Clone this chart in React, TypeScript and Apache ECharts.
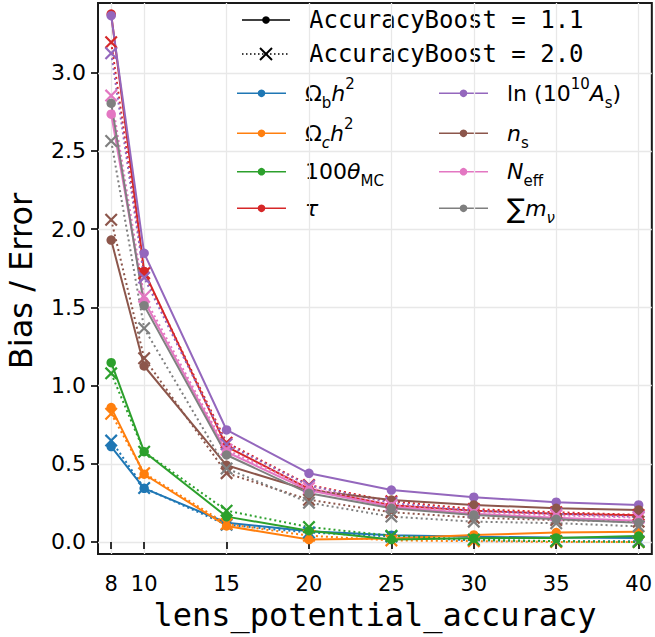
import React, { useEffect, useRef } from 'react';
import * as echarts from 'echarts';

// ---- data ----
const xValues = [8, 10, 15, 20, 25, 30, 35, 40];
const xTickLabels = [8, 10, 15, 20, 25, 30, 35, 40];
const yTickLabels = [0.0, 0.5, 1.0, 1.5, 2.0, 2.5, 3.0];

// AccuracyBoost = 1.1 (solid, circles)
const boost11_ombh2 = [0.61, 0.343, 0.123, 0.068, 0.043, 0.033, 0.028, 0.025];
const boost11_omch2 = [0.859, 0.433, 0.102, 0.015, 0.022, 0.045, 0.06, 0.066];
const boost11_theta = [1.146, 0.577, 0.162, 0.072, 0.015, 0.024, 0.026, 0.038];
const boost11_tau = [3.375, 1.73, 0.61, 0.34, 0.235, 0.2, 0.18, 0.17];
const boost11_logA = [3.365, 1.846, 0.716, 0.439, 0.332, 0.286, 0.254, 0.237];
const boost11_ns = [1.93, 1.125, 0.49, 0.33, 0.268, 0.237, 0.215, 0.205];
const boost11_neff = [2.735, 1.541, 0.575, 0.33, 0.225, 0.18, 0.155, 0.135];
const boost11_mnu = [2.805, 1.511, 0.556, 0.311, 0.215, 0.173, 0.145, 0.123];

// AccuracyBoost = 2.0 (dotted, crosses)
const boost20_ombh2 = [0.648, 0.345, 0.11, 0.06, 0.035, 0.01, 0.005, 0.005];
const boost20_omch2 = [0.82, 0.44, 0.115, 0.04, 0.01, 0.005, 0.0, 0.0];
const boost20_theta = [1.078, 0.577, 0.2, 0.095, 0.04, 0.015, 0.005, 0.0];
const boost20_tau = [3.195, 1.718, 0.635, 0.364, 0.26, 0.21, 0.19, 0.173];
const boost20_logA = [3.125, 1.69, 0.625, 0.36, 0.25, 0.2, 0.18, 0.16];
const boost20_ns = [2.06, 1.175, 0.44, 0.27, 0.19, 0.155, 0.14, 0.13];
const boost20_neff = [2.854, 1.568, 0.59, 0.345, 0.235, 0.19, 0.17, 0.155];
const boost20_mnu = [2.564, 1.366, 0.47, 0.251, 0.162, 0.13, 0.12, 0.1];

const paramLabels = [
  '{r|Ω}{sub|b}{i|h}{sup|2}',
  '{r|Ω}{subi|c}{i|h}{sup|2}',
  '{r|100}{i|θ}{sub|MC}',
  '{i|τ}',
  '{r|ln (10}{sup|10}{i|A}{sub|s}{r|)}',
  '{i|n}{sub|s}',
  '{i|N}{sub|eff}',
  '{sum|∑}{i|m}{subi|ν}',
];
const colors = ['#1f77b4', '#ff7f0e', '#2ca02c', '#d62728', '#9467bd', '#8c564b', '#e377c2', '#7f7f7f'];
const solidData = [boost11_ombh2, boost11_omch2, boost11_theta, boost11_tau, boost11_logA, boost11_ns, boost11_neff, boost11_mnu];
const dottedData = [boost20_ombh2, boost20_omch2, boost20_theta, boost20_tau, boost20_logA, boost20_ns, boost20_neff, boost20_mnu];

const X_SYMBOL = 'path://M0,1.2L1.2,0L5,3.8L8.8,0L10,1.2L6.2,5L10,8.8L8.8,10L5,6.2L1.2,10L0,8.8L3.8,5Z';
const DOT = [2, 3];
const MATH = 'DejaVu Sans';

const rich = {
  r: { fontFamily: MATH, fontSize: 22, lineHeight: 34, verticalAlign: 'middle', fill: '#000' },
  i: { fontFamily: MATH, fontSize: 22, fontStyle: 'italic', lineHeight: 34, verticalAlign: 'middle', fill: '#000' },
  sup: { fontFamily: MATH, fontSize: 15, lineHeight: 15, verticalAlign: 'top', fill: '#000' },
  sub: { fontFamily: MATH, fontSize: 15, lineHeight: 15, verticalAlign: 'bottom', fill: '#000' },
  subi: { fontFamily: MATH, fontSize: 15, fontStyle: 'italic', lineHeight: 15, verticalAlign: 'bottom', fill: '#000' },
  sum: { fontFamily: MATH, fontSize: 27, lineHeight: 34, verticalAlign: 'middle', fill: '#000' },
};

function buildLegend(): any[] {
  const els: any[] = [];
  const ly = [20, 54];
  els.push({ type: 'line', shape: { x1: 242, y1: ly[0], x2: 290, y2: ly[0] }, style: { stroke: '#000', lineWidth: 1.5 } });
  els.push({ type: 'circle', shape: { cx: 266, cy: ly[0], r: 3.8 }, style: { fill: '#000' } });
  els.push({ type: 'line', shape: { x1: 242, y1: ly[1], x2: 290, y2: ly[1] }, style: { stroke: '#000', lineWidth: 1.5, lineDash: [1.5, 2.5] } });
  els.push({ type: 'line', shape: { x1: 260, y1: ly[1] - 6, x2: 272, y2: ly[1] + 6 }, style: { stroke: '#000', lineWidth: 2 } });
  els.push({ type: 'line', shape: { x1: 272, y1: ly[1] - 6, x2: 260, y2: ly[1] + 6 }, style: { stroke: '#000', lineWidth: 2 } });
  const boostTexts = ['AccuracyBoost = 1.1', 'AccuracyBoost = 2.0'];
  boostTexts.forEach((t, k) => {
    els.push({
      type: 'text', x: 309, y: ly[k],
      style: { text: t, fontFamily: 'DejaVu Sans Mono', fontSize: 24, fill: '#000', verticalAlign: 'middle', align: 'left' },
    });
  });
  const rows = [93.3, 133.3, 171.7, 208.3];
  const cols = [{ x1: 237, x2: 286, tx: 305 }, { x1: 439, x2: 488, tx: 507 }];
  paramLabels.forEach((lab, k) => {
    const c = cols[Math.floor(k / 4)];
    const y = rows[k % 4];
    els.push({ type: 'line', shape: { x1: c.x1, y1: y, x2: c.x2, y2: y }, style: { stroke: colors[k], lineWidth: 1.5 } });
    els.push({ type: 'circle', shape: { cx: (c.x1 + c.x2) / 2, cy: y, r: 3.8 }, style: { fill: colors[k] } });
    els.push({
      type: 'text', x: c.tx, y: y,
      style: { text: lab, rich, verticalAlign: 'middle', align: 'left', fill: '#000' },
    });
  });
  els.push({
    type: 'text', x: 375, y: 615,
    style: { text: 'lens_potential_accuracy', fontFamily: 'DejaVu Sans Mono', fontSize: 32, lineHeight: 26, fill: '#000', align: 'center', verticalAlign: 'middle' },
  });
  els.push({
    type: 'text', x: 21, y: 281, rotation: Math.PI / 2,
    style: { text: 'Bias / Error', fontFamily: 'DejaVu Sans', fontSize: 32, fill: '#000', align: 'center', verticalAlign: 'middle' },
  });
  return els;
}

export default function App() {
  const ref = useRef<HTMLDivElement>(null);
  useEffect(() => {
    if (!ref.current) return;
    const chart = echarts.init(ref.current, null, { renderer: 'svg' });
    const series: any[] = [];
    colors.forEach((col, k) => {
      series.push({
        type: 'line',
        data: xValues.map((x, j) => [x, solidData[k][j]]),
        symbol: 'circle', symbolSize: 9.5,
        lineStyle: { color: col, width: 2 },
        itemStyle: { color: col },
        silent: true,
      });
      series.push({
        type: 'line',
        data: xValues.map((x, j) => [x, dottedData[k][j]]),
        symbol: X_SYMBOL, symbolSize: 13,
        lineStyle: { color: col, width: 2, type: DOT },
        itemStyle: { color: col },
        silent: true,
      });
    });
    chart.setOption({
      animation: false,
      grid: { left: 98, right: 3, top: 3, bottom: 83, show: true, borderColor: '#1a1a1a', borderWidth: 2, backgroundColor: 'transparent' },
      xAxis: {
        type: 'value', min: 7.2, max: 40.8,
        axisLine: { show: false },
        axisTick: { show: true, length: 7, inside: false, customValues: xTickLabels, lineStyle: { color: '#000', width: 1.6 } },
        axisLabel: { customValues: xTickLabels, fontFamily: 'DejaVu Sans', fontSize: 21, lineHeight: 18, color: '#000', margin: 21, formatter: (v: number) => String(v) },
        splitLine: { show: true, lineStyle: { color: '#e8e8e8', width: 1.3 } },
      },
      yAxis: {
        type: 'value', min: -0.077, max: 3.446,
        axisLine: { show: false },
        axisTick: { show: true, length: 7, inside: false, customValues: yTickLabels, lineStyle: { color: '#000', width: 1.6 } },
        axisLabel: { customValues: yTickLabels, fontFamily: 'DejaVu Sans', fontSize: 22, color: '#000', margin: 12, formatter: (v: number) => v.toFixed(1) },
        splitLine: { show: true, lineStyle: { color: '#e8e8e8', width: 1.3 } },
      },
      series,
      graphic: { elements: buildLegend() },
    });
    return () => chart.dispose();
  }, []);
  return <div ref={ref} style={{ position: 'absolute', left: 0, top: 0, width: 655, height: 637, background: '#fff' }} />;
}
